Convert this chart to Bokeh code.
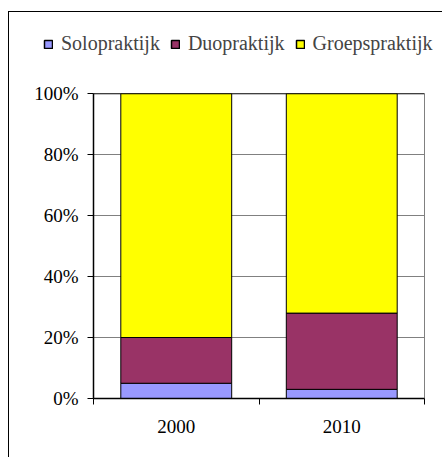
from bokeh.plotting import figure
from bokeh.models import (ColumnDataSource, FixedTicker, Legend, LegendItem,
                          Span, NumeralTickFormatter, Range1d)
from bokeh.embed import file_html
from bokeh.resources import INLINE

years = ["2000", "2010"]
series = ["Solopraktijk", "Duopraktijk", "Groepspraktijk"]
solo = [0.05, 0.03]
duo = [0.15, 0.25]
groep = [0.80, 0.72]
colors = ["#9999FF", "#993366", "#FFFF00"]
y_ticks = [0, 0.2, 0.4, 0.6, 0.8, 1.0]

FONT = "Liberation Serif"
FS = "19px"
LEG_FS = "20px"

xpos = [i + 0.5 for i in range(len(years))]
src = ColumnDataSource(dict(x=xpos, Solopraktijk=solo, Duopraktijk=duo, Groepspraktijk=groep))

# ---- legend strip (its own root, so its frame is not aligned with the chart's) ----
leg = figure(width=434, height=62, output_backend="svg", toolbar_location=None,
             x_range=Range1d(0, len(years)), y_range=Range1d(5, 6),
             x_axis_location=None, y_axis_location=None,
             min_border_left=0, min_border_right=0, min_border_top=0, min_border_bottom=0,
             styles={"border-left": "1px solid #000", "border-top": "1px solid #000",
                     "margin-top": "11px", "margin-left": "8px"})
leg.outline_line_color = None
leg.xgrid.visible = False
leg.ygrid.visible = False
# same stacked bars, kept out of view; they only supply the legend swatches
leg_renderers = leg.vbar_stack(series, x="x", width=0.67, source=src, fill_color=colors,
                               line_color="black", line_width=1.5)
legend = Legend(items=[LegendItem(label=s, renderers=[r]) for s, r in zip(series, leg_renderers)],
                orientation="horizontal", location=(34, 19),
                glyph_width=10, glyph_height=10, label_standoff=8, spacing=10,
                padding=0, margin=0, border_line_color=None, background_fill_alpha=0,
                label_text_font=FONT, label_text_font_size=LEG_FS, label_height=20)
leg.add_layout(legend, "center")

# ---- main chart ----
p = figure(width=434, height=384, output_backend="svg", toolbar_location=None,
           x_range=Range1d(0, len(years)), y_range=Range1d(0, 1),
           min_border_left=84, min_border_right=19, min_border_top=20, min_border_bottom=59,
           styles={"border-left": "1px solid #000", "margin-left": "8px"})

renderers = p.vbar_stack(series, x="x", width=0.67, source=src, fill_color=colors,
                         line_color="black", line_width=1)

p.outline_line_color = "#808080"
p.background_fill_color = "white"
p.border_fill_color = "white"

p.xgrid.visible = False
p.ygrid.ticker = FixedTicker(ticks=y_ticks)
p.ygrid.grid_line_color = "#808080"
p.ygrid.grid_line_width = 1
p.add_layout(Span(location=1, dimension="width", line_color="black", line_width=1.5))

# y axis
p.yaxis.ticker = FixedTicker(ticks=y_ticks)
p.yaxis.formatter = NumeralTickFormatter(format="0%")
p.yaxis.axis_line_color = "black"
p.yaxis.axis_line_width = 1.5
p.yaxis.major_tick_in = 0
p.yaxis.major_tick_out = 6
p.yaxis.major_tick_line_color = "black"
p.yaxis.minor_tick_line_color = None
p.yaxis.major_label_standoff = 9
p.yaxis.major_label_text_font = FONT
p.yaxis.major_label_text_font_size = FS
p.yaxis.major_label_text_color = "black"

# x axis: labels at category centres, ticks at category boundaries
p.xaxis.ticker = FixedTicker(ticks=xpos, minor_ticks=list(range(len(years) + 1)))
p.xaxis.major_label_overrides = {x: y for x, y in zip(xpos, years)}
p.xaxis.major_tick_in = 0
p.xaxis.major_tick_out = 0
p.xaxis.minor_tick_in = 0
p.xaxis.minor_tick_out = 6
p.xaxis.minor_tick_line_color = "black"
p.xaxis.axis_line_color = "black"
p.xaxis.axis_line_width = 1.5
p.xaxis.major_label_standoff = 15
p.xaxis.major_label_text_font = FONT
p.xaxis.major_label_text_font_size = FS
p.xaxis.major_label_text_color = "black"

open("out.html", "w").write(file_html([leg, p], INLINE))
